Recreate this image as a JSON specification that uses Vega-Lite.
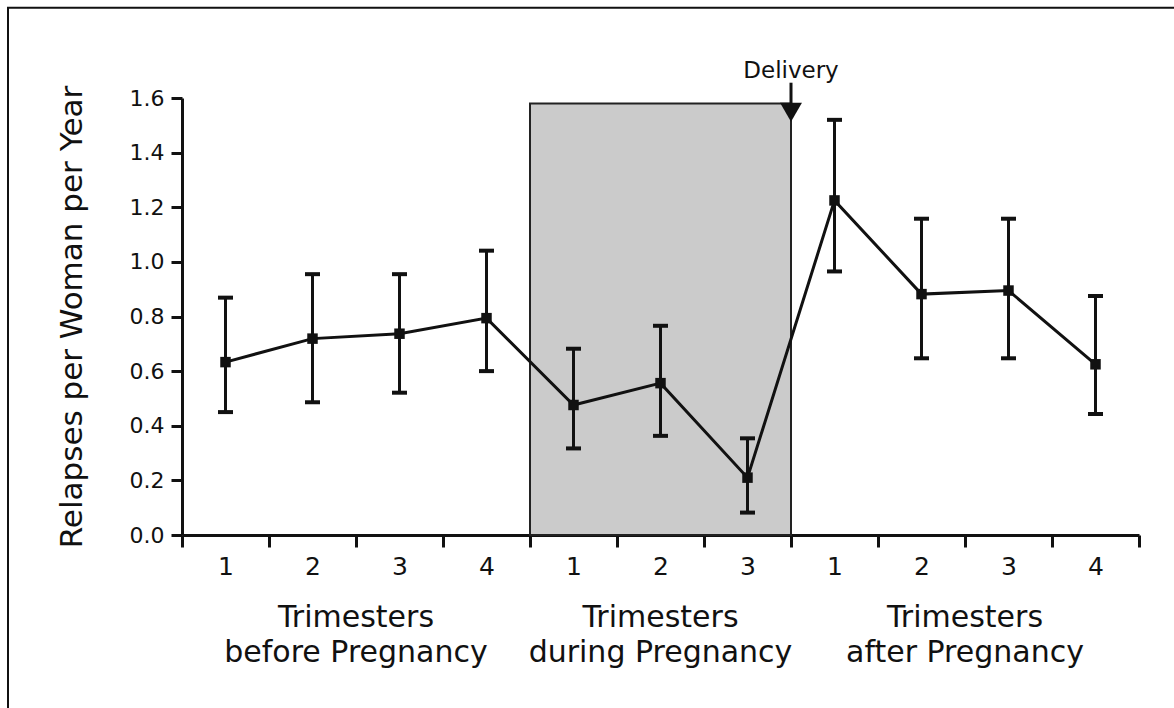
{
  "$schema": "https://vega.github.io/schema/vega-lite/v6.json",
  "autosize": {"type": "none"},
  "width": 957,
  "height": 437,
  "padding": {"left": 182, "top": 98, "right": 35, "bottom": 173},
  "background": "white",
  "config": {
    "view": {"stroke": null},
    "font": "DejaVu Sans",
    "axis": {"grid": false, "domainColor": "#111", "tickColor": "#111", "labelColor": "#111", "titleColor": "#111", "labelFont": "DejaVu Sans", "titleFont": "DejaVu Sans"}
  },
  "datasets": {
    "points": [
      {"pos": 0.5, "trimester": "1", "period": "before", "value": 0.633, "lo": 0.450, "hi": 0.869},
      {"pos": 1.5, "trimester": "2", "period": "before", "value": 0.719, "lo": 0.486, "hi": 0.955},
      {"pos": 2.5, "trimester": "3", "period": "before", "value": 0.737, "lo": 0.521, "hi": 0.955},
      {"pos": 3.5, "trimester": "4", "period": "before", "value": 0.794, "lo": 0.600, "hi": 1.041},
      {"pos": 4.5, "trimester": "1", "period": "during", "value": 0.476, "lo": 0.317, "hi": 0.682},
      {"pos": 5.5, "trimester": "2", "period": "during", "value": 0.556, "lo": 0.363, "hi": 0.766},
      {"pos": 6.5, "trimester": "3", "period": "during", "value": 0.210, "lo": 0.082, "hi": 0.354},
      {"pos": 7.5, "trimester": "1", "period": "after", "value": 1.225, "lo": 0.965, "hi": 1.520},
      {"pos": 8.5, "trimester": "2", "period": "after", "value": 0.882, "lo": 0.647, "hi": 1.158},
      {"pos": 9.5, "trimester": "3", "period": "after", "value": 0.895, "lo": 0.647, "hi": 1.158},
      {"pos": 10.5, "trimester": "4", "period": "after", "value": 0.625, "lo": 0.443, "hi": 0.875}
    ],
    "shade": [{"start": 4, "end": 7, "top": 1.58}],
    "groups": [
      {"center": 2, "label": "Trimesters\nbefore Pregnancy"},
      {"center": 5.5, "label": "Trimesters\nduring Pregnancy"},
      {"center": 9, "label": "Trimesters\nafter Pregnancy"}
    ],
    "delivery": [{"at": 7, "from": 1.58, "to": 1.656, "arrow": 1.548, "label": "Delivery"}],
    "frame": [{"left": -2.0, "right": 11.7, "top": 1.93, "bottom": -0.75}]
  },
  "layer": [
    {
      "data": {"name": "frame"},
      "mark": {"type": "rect", "fill": null, "stroke": "#111", "strokeWidth": 2, "clip": false},
      "encoding": {
        "x": {"field": "left", "type": "quantitative", "scale": {"domain": [0, 11], "nice": false, "zero": false}},
        "x2": {"field": "right"},
        "y": {"field": "top", "type": "quantitative", "scale": {"domain": [0, 1.6], "nice": false}},
        "y2": {"field": "bottom"}
      }
    },
    {
      "data": {"name": "shade"},
      "mark": {"type": "rect", "fill": "#cbcbcb", "stroke": "#222", "strokeWidth": 2},
      "encoding": {
        "x": {"field": "start", "type": "quantitative", "scale": {"domain": [0, 11], "nice": false, "zero": false},
          "axis": {
            "values": [0, 1, 2, 3, 4, 5, 6, 7, 8, 9, 10, 11],
            "labelExpr": "['1','2','3','4','1','2','3','1','2','3','4',''][datum.value]",
            "labelOffset": 43.5,
            "labelOverlap": false,
            "labelBound": false,
            "labelFlush": false,
            "labelFontSize": 25,
            "labelPadding": 7,
            "tickSize": 12,
            "tickWidth": 3,
            "domainWidth": 3,
            "title": null
          }},
        "x2": {"field": "end"},
        "y": {"field": "top", "type": "quantitative", "scale": {"domain": [0, 1.6], "nice": false},
          "axis": {
            "values": [0, 0.2, 0.4, 0.6, 0.8, 1.0, 1.2, 1.4, 1.6],
            "format": ".1f",
            "labelFontSize": 22,
            "labelPadding": 7,
            "tickSize": 11,
            "tickWidth": 3,
            "domainWidth": 3,
            "title": "Relapses per Woman per Year",
            "titleFontSize": 31,
            "titleFontWeight": "normal",
            "titlePadding": 41
          }},
        "y2": {"datum": 0}
      }
    },
    {
      "data": {"name": "points"},
      "mark": {"type": "rule", "color": "#111", "strokeWidth": 3},
      "encoding": {
        "x": {"field": "pos", "type": "quantitative"},
        "y": {"field": "lo", "type": "quantitative"},
        "y2": {"field": "hi"}
      }
    },
    {
      "data": {"name": "points"},
      "mark": {"type": "tick", "color": "#111", "orient": "horizontal", "size": 15, "thickness": 4, "opacity": 1},
      "encoding": {
        "x": {"field": "pos", "type": "quantitative"},
        "y": {"field": "lo", "type": "quantitative"}
      }
    },
    {
      "data": {"name": "points"},
      "mark": {"type": "tick", "color": "#111", "orient": "horizontal", "size": 15, "thickness": 4, "opacity": 1},
      "encoding": {
        "x": {"field": "pos", "type": "quantitative"},
        "y": {"field": "hi", "type": "quantitative"}
      }
    },
    {
      "data": {"name": "points"},
      "mark": {"type": "line", "color": "#111", "strokeWidth": 3},
      "encoding": {
        "x": {"field": "pos", "type": "quantitative"},
        "y": {"field": "value", "type": "quantitative"}
      }
    },
    {
      "data": {"name": "points"},
      "mark": {"type": "point", "shape": "square", "filled": true, "color": "#111", "size": 110, "opacity": 1},
      "encoding": {
        "x": {"field": "pos", "type": "quantitative"},
        "y": {"field": "value", "type": "quantitative"}
      }
    },
    {
      "data": {"name": "delivery"},
      "mark": {"type": "rule", "color": "#111", "strokeWidth": 3, "clip": false},
      "encoding": {
        "x": {"field": "at", "type": "quantitative"},
        "y": {"field": "from", "type": "quantitative"},
        "y2": {"field": "to"}
      }
    },
    {
      "data": {"name": "delivery"},
      "mark": {"type": "point", "shape": "triangle-down", "filled": true, "color": "#111", "size": 480, "opacity": 1, "clip": false},
      "encoding": {
        "x": {"field": "at", "type": "quantitative"},
        "y": {"field": "arrow", "type": "quantitative"}
      }
    },
    {
      "data": {"name": "delivery"},
      "mark": {"type": "text", "fontSize": 23, "color": "#111", "align": "center", "baseline": "alphabetic", "dy": -5, "clip": false},
      "encoding": {
        "x": {"field": "at", "type": "quantitative"},
        "y": {"field": "to", "type": "quantitative"},
        "text": {"field": "label"}
      }
    },
    {
      "data": {"name": "groups"},
      "mark": {"type": "text", "fontSize": 30, "color": "#111", "align": "center", "baseline": "alphabetic", "dy": 92, "lineBreak": "\n", "lineHeight": 35, "clip": false},
      "encoding": {
        "x": {"field": "center", "type": "quantitative"},
        "y": {"datum": 0, "type": "quantitative"},
        "text": {"field": "label"}
      }
    }
  ]
}
